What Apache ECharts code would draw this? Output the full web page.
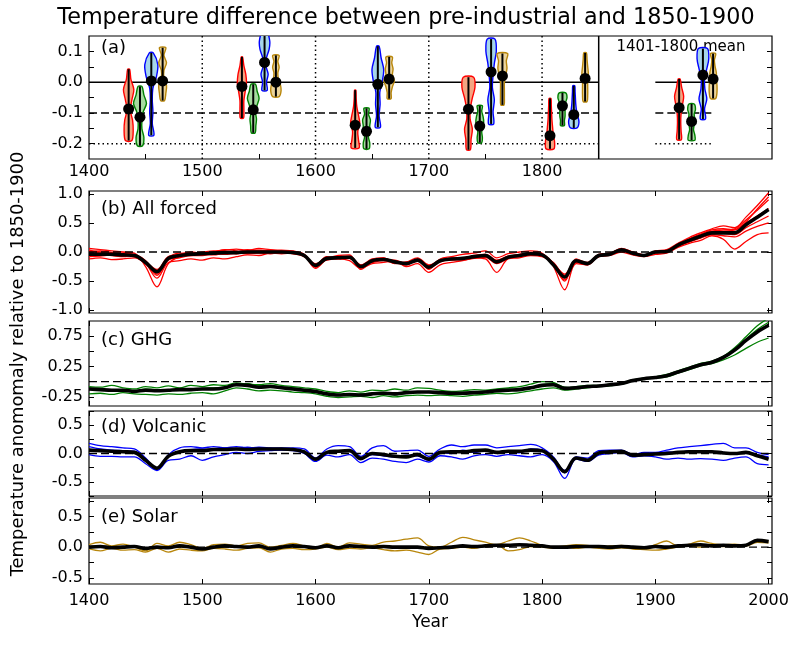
<!DOCTYPE html>
<html><head><meta charset="utf-8">
<script src="https://cdn.jsdelivr.net/npm/echarts@6/dist/echarts.min.js"></script>
<style>html,body{margin:0;padding:0;background:#fff}#c{width:800px;height:645px}</style>
</head><body><div id="c"></div>
<script>
// ---------------- DATA ----------------
const years = [1400,1410,1420,1430,1440,1450,1460,1470,1480,1490,1500,1510,1520,1530,1540,1550,1560,1570,1580,1590,1600,1610,1620,1630,1640,1650,1660,1670,1680,1690,1700,1710,1720,1730,1740,1750,1760,1770,1780,1790,1800,1810,1820,1830,1840,1850,1860,1870,1880,1890,1900,1910,1920,1930,1940,1950,1960,1970,1980,1990,2000];

// (b) All forced
const allMean = [-0.04,-0.04,-0.04,-0.05,-0.06,-0.18,-0.34,-0.11,-0.06,-0.04,-0.03,-0.02,-0.01,-0.01,0.0,0.0,0.0,0.0,-0.01,-0.06,-0.23,-0.11,-0.10,-0.09,-0.25,-0.15,-0.13,-0.17,-0.20,-0.14,-0.26,-0.15,-0.12,-0.11,-0.08,-0.06,-0.17,-0.09,-0.06,-0.03,-0.05,-0.22,-0.43,-0.15,-0.20,-0.06,-0.04,0.04,-0.02,-0.06,0.0,0.01,0.12,0.20,0.27,0.33,0.33,0.33,0.47,0.60,0.73];
const allR1 = [0.06,0.04,0.02,0.0,-0.02,-0.25,-0.6,-0.2,-0.08,-0.02,0.0,0.02,0.03,0.05,0.03,0.06,0.04,0.03,0.02,-0.05,-0.28,-0.12,-0.06,-0.05,-0.3,-0.15,-0.1,-0.18,-0.22,-0.12,-0.3,-0.12,-0.08,-0.04,-0.02,0.02,-0.1,-0.03,0.0,0.02,-0.02,-0.25,-0.65,-0.2,-0.22,-0.05,-0.02,0.05,0.0,-0.05,0.02,0.04,0.15,0.25,0.33,0.4,0.45,0.42,0.6,0.8,1.02];
const allR2 = [-0.12,-0.1,-0.13,-0.12,-0.1,-0.2,-0.45,-0.18,-0.15,-0.12,-0.14,-0.1,-0.12,-0.08,-0.05,-0.06,-0.02,-0.03,-0.02,-0.08,-0.2,-0.14,-0.12,-0.15,-0.28,-0.2,-0.18,-0.15,-0.25,-0.2,-0.35,-0.22,-0.18,-0.15,-0.1,-0.12,-0.35,-0.12,-0.1,-0.06,-0.08,-0.18,-0.4,-0.18,-0.22,-0.08,-0.06,0.0,-0.05,-0.08,-0.04,-0.02,0.08,0.15,0.2,0.28,0.22,0.05,0.18,0.3,0.33];
const allR3 = [0.02,-0.02,-0.06,-0.08,-0.05,-0.15,-0.38,-0.1,-0.04,0.0,-0.02,0.0,0.04,0.02,-0.02,0.0,0.02,-0.02,0.0,-0.04,-0.22,-0.08,-0.12,-0.08,-0.22,-0.12,-0.1,-0.2,-0.18,-0.1,-0.22,-0.16,-0.1,-0.12,-0.06,-0.04,-0.15,-0.08,-0.04,-0.02,-0.04,-0.22,-0.5,-0.12,-0.18,-0.04,-0.02,0.04,-0.04,-0.06,0.0,0.02,0.12,0.22,0.3,0.36,0.38,0.4,0.55,0.72,0.9];
const allR4 = [-0.06,-0.05,-0.02,-0.04,-0.08,-0.18,-0.3,-0.08,-0.05,-0.06,-0.04,-0.05,-0.02,-0.03,0.02,-0.01,0.01,0.02,-0.02,-0.06,-0.25,-0.1,-0.08,-0.1,-0.24,-0.16,-0.14,-0.14,-0.2,-0.16,-0.24,-0.14,-0.14,-0.12,-0.1,-0.08,-0.18,-0.1,-0.08,-0.04,-0.06,-0.2,-0.38,-0.14,-0.2,-0.07,-0.05,0.03,-0.02,-0.07,-0.01,0.0,0.1,0.18,0.25,0.3,0.32,0.3,0.42,0.52,0.62];
const allR5 = [0.0,0.02,-0.01,-0.02,-0.04,-0.16,-0.32,-0.12,-0.06,-0.05,-0.03,-0.04,0.0,0.01,0.02,0.03,0.0,0.01,0.01,-0.05,-0.24,-0.13,-0.1,-0.07,-0.26,-0.14,-0.12,-0.16,-0.19,-0.13,-0.27,-0.15,-0.12,-0.1,-0.08,-0.05,-0.16,-0.08,-0.05,-0.02,-0.04,-0.19,-0.45,-0.15,-0.19,-0.06,-0.04,0.05,-0.01,-0.06,0.01,0.02,0.14,0.2,0.28,0.35,0.36,0.38,0.5,0.62,0.75];
const allR6 = [-0.08,-0.07,-0.05,-0.06,-0.08,-0.2,-0.4,-0.14,-0.1,-0.06,-0.06,-0.03,-0.04,-0.02,-0.03,-0.02,-0.03,0.0,-0.03,-0.07,-0.21,-0.1,-0.09,-0.11,-0.23,-0.18,-0.15,-0.19,-0.17,-0.15,-0.28,-0.17,-0.13,-0.14,-0.11,-0.09,-0.2,-0.11,-0.07,-0.05,-0.07,-0.21,-0.42,-0.16,-0.21,-0.08,-0.05,0.02,-0.03,-0.07,-0.02,0.0,0.1,0.17,0.24,0.3,0.28,0.26,0.36,0.44,0.5];
const allR7 = [0.03,0.0,-0.03,-0.03,-0.06,-0.17,-0.36,-0.1,-0.02,-0.03,-0.01,-0.02,0.01,0.0,0.04,0.02,0.03,0.01,0.0,-0.05,-0.26,-0.09,-0.11,-0.08,-0.27,-0.13,-0.12,-0.15,-0.21,-0.12,-0.25,-0.13,-0.11,-0.1,-0.07,-0.04,-0.14,-0.07,-0.05,-0.01,-0.03,-0.2,-0.48,-0.14,-0.2,-0.05,-0.03,0.06,0.0,-0.05,0.01,0.03,0.13,0.23,0.31,0.38,0.4,0.38,0.52,0.74,0.95];

// (c) GHG
const ghgMean = [-0.12,-0.13,-0.14,-0.14,-0.16,-0.14,-0.15,-0.14,-0.13,-0.13,-0.12,-0.12,-0.1,-0.05,-0.06,-0.09,-0.08,-0.1,-0.12,-0.14,-0.16,-0.2,-0.22,-0.21,-0.22,-0.2,-0.19,-0.2,-0.18,-0.17,-0.17,-0.18,-0.19,-0.19,-0.18,-0.17,-0.15,-0.14,-0.13,-0.1,-0.06,-0.05,-0.11,-0.1,-0.08,-0.07,-0.05,-0.03,0.02,0.05,0.07,0.1,0.16,0.22,0.28,0.32,0.4,0.52,0.68,0.82,0.93];
const ghgG1 = [-0.08,-0.09,-0.06,-0.1,-0.12,-0.08,-0.1,-0.07,-0.1,-0.06,-0.08,-0.05,-0.06,-0.02,-0.04,-0.05,-0.03,-0.06,-0.08,-0.1,-0.12,-0.16,-0.18,-0.15,-0.17,-0.14,-0.15,-0.12,-0.14,-0.1,-0.11,-0.14,-0.16,-0.15,-0.13,-0.14,-0.12,-0.1,-0.08,-0.04,0.0,-0.01,-0.1,-0.08,-0.06,-0.06,-0.04,-0.02,0.03,0.06,0.08,0.12,0.18,0.24,0.3,0.34,0.42,0.56,0.74,0.92,1.05];
const ghgG2 = [-0.2,-0.19,-0.21,-0.18,-0.2,-0.21,-0.22,-0.2,-0.21,-0.19,-0.18,-0.2,-0.15,-0.1,-0.12,-0.15,-0.14,-0.15,-0.17,-0.18,-0.2,-0.24,-0.26,-0.25,-0.24,-0.26,-0.23,-0.25,-0.23,-0.22,-0.23,-0.22,-0.23,-0.24,-0.22,-0.21,-0.19,-0.2,-0.18,-0.15,-0.12,-0.1,-0.14,-0.12,-0.1,-0.08,-0.07,-0.04,0.01,0.04,0.06,0.08,0.14,0.2,0.26,0.3,0.36,0.44,0.55,0.65,0.72];
const ghgG3 = [-0.1,-0.12,-0.15,-0.13,-0.15,-0.12,-0.13,-0.15,-0.12,-0.14,-0.11,-0.1,-0.09,-0.04,-0.03,-0.07,-0.06,-0.09,-0.1,-0.13,-0.15,-0.19,-0.21,-0.22,-0.2,-0.19,-0.2,-0.22,-0.17,-0.18,-0.16,-0.17,-0.18,-0.17,-0.19,-0.16,-0.14,-0.12,-0.13,-0.11,-0.05,-0.03,-0.09,-0.1,-0.07,-0.07,-0.04,-0.03,0.02,0.05,0.07,0.1,0.16,0.22,0.28,0.33,0.41,0.54,0.7,0.86,0.98];

// (d) Volcanic
const volMean = [0.06,0.05,0.04,0.03,0.02,-0.12,-0.26,-0.05,0.03,0.05,0.05,0.07,0.07,0.08,0.07,0.08,0.08,0.08,0.07,0.03,-0.1,0.02,0.04,0.05,-0.09,0.0,-0.02,-0.05,-0.06,-0.02,-0.1,0.02,0.03,0.03,0.05,0.06,0.02,0.04,0.04,0.06,0.05,-0.1,-0.32,-0.08,-0.12,0.01,0.03,0.04,-0.03,-0.02,-0.01,0.0,0.02,0.03,0.03,0.03,0.01,0.0,0.02,-0.04,-0.1];
const volB1 = [0.18,0.14,0.12,0.1,0.08,-0.08,-0.28,-0.02,0.1,0.12,0.1,0.12,0.1,0.12,0.1,0.11,0.1,0.09,0.1,0.08,-0.08,0.08,0.14,0.12,-0.05,0.1,0.14,0.04,0.05,0.06,-0.05,0.08,0.15,0.12,0.15,0.15,0.1,0.12,0.14,0.16,0.1,-0.06,-0.3,-0.06,-0.08,0.05,0.06,0.06,-0.02,0.02,0.02,0.06,0.1,0.12,0.14,0.16,0.18,0.1,0.1,0.02,-0.02];
const volB2 = [-0.02,-0.05,-0.05,-0.06,-0.06,-0.18,-0.3,-0.12,-0.1,-0.04,-0.12,-0.06,-0.02,0.02,0.0,0.04,0.05,0.06,0.05,0.0,-0.14,-0.03,-0.06,-0.02,-0.16,-0.08,-0.1,-0.14,-0.16,-0.1,-0.15,-0.04,-0.06,-0.1,-0.04,-0.02,-0.05,-0.02,-0.04,-0.06,-0.02,-0.14,-0.44,-0.1,-0.14,-0.03,0.0,0.02,-0.06,-0.04,-0.06,-0.1,-0.08,-0.1,-0.09,-0.1,-0.12,-0.08,-0.06,-0.18,-0.2];
const volB3 = [0.12,0.08,0.06,0.05,0.04,-0.1,-0.25,-0.04,0.02,0.07,0.08,0.06,0.1,0.09,0.11,0.09,0.09,0.1,0.08,0.04,-0.1,0.0,0.02,0.06,-0.08,-0.02,-0.04,-0.06,-0.03,-0.04,-0.12,0.02,0.0,0.06,0.02,0.05,0.01,0.03,0.01,0.08,0.06,-0.1,-0.34,-0.07,-0.13,0.0,0.04,0.05,-0.02,-0.03,0.0,0.03,0.02,0.05,0.04,0.03,0.02,0.0,0.03,-0.02,-0.06];

// (e) Solar
const solMean = [0.0,0.01,-0.01,0.0,0.01,-0.02,0.0,-0.01,0.02,0.0,-0.03,0.0,0.02,0.01,0.0,0.02,-0.03,0.0,0.02,0.01,-0.01,0.02,-0.01,0.02,0.01,0.0,0.01,0.0,0.0,0.0,-0.02,-0.01,0.0,0.02,0.01,0.02,0.03,0.03,0.04,0.03,0.02,0.0,0.0,0.01,0.01,0.01,0.0,0.01,0.0,-0.01,0.01,0.0,0.02,0.03,0.04,0.02,0.03,0.02,0.03,0.11,0.09];
const solS1 = [0.04,0.08,0.02,0.05,0.0,-0.06,0.06,0.02,0.08,0.04,-0.02,0.04,0.05,0.02,0.06,0.07,0.0,0.03,0.06,0.02,-0.02,0.06,0.0,0.07,0.05,0.03,0.08,0.1,0.13,0.15,0.02,0.0,0.08,0.16,0.12,0.08,0.04,0.1,0.15,0.1,0.03,0.0,0.02,0.04,0.03,0.0,0.02,0.03,0.0,-0.02,0.04,0.1,0.02,0.05,0.1,0.06,0.04,0.05,0.03,0.12,0.1];
const solS2 = [-0.03,-0.06,-0.02,-0.05,-0.04,-0.08,-0.02,-0.08,-0.03,-0.05,-0.06,-0.02,-0.03,-0.05,-0.02,-0.01,-0.08,-0.03,-0.02,-0.04,-0.03,0.0,-0.04,-0.02,-0.03,-0.01,-0.04,-0.06,-0.05,-0.08,-0.12,-0.03,-0.02,0.0,-0.02,0.02,0.04,-0.06,-0.04,0.01,0.0,-0.02,0.0,-0.02,0.0,-0.02,-0.03,-0.01,-0.03,-0.04,-0.05,-0.03,0.0,0.02,0.0,0.02,0.01,0.02,0.02,0.08,0.07];

// (a) violins: positions (year), mean, min, max, relative density (top -> bottom)
const redPos = [1435,1535,1635,1735,1807,1921];
const redMean = [-0.087,-0.014,-0.14,-0.088,-0.174,-0.083];
const redLo = [-0.19,-0.117,-0.214,-0.22,-0.217,-0.187];
const redHi = [0.042,0.082,-0.026,0.016,-0.053,0.01];
const redShape = [[0.15,0.35,0.8,0.5,0.25,0.6,0.7,0.5],[0.1,0.3,0.6,0.7,0.5,0.3,0.3,0.25],[0.1,0.15,0.25,0.5,0.7,0.4,0.5,0.6],[0.8,1.0,0.6,0.3,0.25,0.6,0.4,0.3],[0.15,0.2,0.25,0.3,0.4,0.5,0.7,0.6],[0.15,0.4,0.7,0.5,0.3,0.25,0.3,0.35]];

const greenPos = [1445,1545,1645,1745,1818,1932];
const greenMean = [-0.114,-0.09,-0.16,-0.143,-0.077,-0.128];
const greenLo = [-0.207,-0.165,-0.217,-0.197,-0.141,-0.189];
const greenHi = [-0.014,-0.007,-0.085,-0.077,-0.035,-0.071];
const greenShape = [[0.3,0.6,1.0,0.5,0.3,0.3,0.6,0.4],[0.35,0.6,0.9,0.6,0.35,0.5,0.4,0.3],[0.4,0.3,0.6,0.5,0.5,0.3,0.5,0.4],[0.4,0.3,0.5,0.6,0.4,0.3,0.4,0.3],[0.5,0.7,0.5,0.4,0.4,0.4,0.3,0.3],[0.4,0.6,0.4,0.5,0.4,0.3,0.5,0.5]];

const bluePos = [1455,1555,1655,1755,1828,1942];
const blueMean = [0.004,0.064,-0.007,0.033,-0.106,0.023];
const blueLo = [-0.173,-0.027,-0.147,-0.136,-0.149,-0.12];
const blueHi = [0.095,0.16,0.117,0.14,-0.012,0.109];
const blueShape = [[0.3,1.0,0.8,0.25,0.15,0.25,0.15,0.4],[0.4,0.8,0.7,0.3,0.2,0.55,0.3,0.4],[0.2,0.5,0.9,0.7,0.3,0.35,0.2,0.4],[0.6,0.8,0.5,0.3,0.2,0.5,0.3,0.4],[0.15,0.2,0.25,0.3,0.4,0.6,0.8,0.5],[0.7,0.9,0.6,0.25,0.3,0.6,0.25,0.4]];

const goldPos = [1465,1565,1665,1765,1838,1951];
const goldMean = [0.004,0.0,0.01,0.02,0.012,0.01];
const goldLo = [-0.06,-0.047,-0.054,-0.074,-0.063,-0.053];
const goldHi = [0.112,0.087,0.082,0.093,0.095,0.093];
const goldShape = [[0.5,0.2,0.6,0.2,0.2,0.6,0.5,0.3],[0.5,0.3,0.5,0.3,0.4,0.7,0.8,0.5],[0.5,0.4,0.6,0.5,0.8,0.5,0.3,0.3],[0.8,0.6,0.7,0.5,0.3,0.3,0.3,0.25],[0.2,0.3,0.4,0.5,0.4,0.4,0.4,0.3],[0.4,0.2,0.3,0.5,0.5,0.6,0.6,0.4]];

// (a) reference lines
const refLevels = [0, -0.1, -0.2];
const periodSpan = [1400, 1850];
const meanSpan = [1900, 1950];
const centuryLines = [1500, 1600, 1700, 1800];
const splitYear = 1850;

// tick values / labels
const xTicksTop = [1400,1500,1600,1700,1800];
const xMinorA = [1450,1550,1650,1750];
const xTicks = [1400,1500,1600,1700,1800,1900,2000];
const yTicksA = [-0.2,-0.15,-0.1,-0.05,0,0.05,0.1];
const yLabelsA = [-0.2,-0.1,0,0.1];
const yTicksB = [-1,-0.5,0,0.5,1];
const yTicksC = [-0.25,0,0.25,0.5,0.75];
const yLabelsC = [-0.25,0.25,0.75];
const yTicksD = [-0.75,-0.5,-0.25,0,0.25,0.5,0.75];
const yLabelsD = [-0.5,0,0.5];
const yTicksE = [-0.5,-0.25,0,0.25,0.5,0.75];
const yLabelsE = [-0.5,0,0.5];

// ---------------- CHART ----------------
const FONT = 'DejaVu Sans';
const X_MIN = 1400, X_MAX = 2003;
const grids = [
  {top:36, height:123, ymin:-0.25, ymax:0.15},
  {top:191, height:122, ymin:-1.05, ymax:1.05},
  {top:321, height:85, ymin:-0.4, ymax:1.0},
  {top:411, height:85, ymin:-0.75, ymax:0.75},
  {top:498, height:86, ymin:-0.6, ymax:0.8}
];
const gridOpts = grids.map(g => ({left:89, width:683, top:g.top, height:g.height, show:true, borderColor:'#000', borderWidth:1.2, backgroundColor:'transparent', containLabel:false}));

function xAx(gi, pos, ticks, labels, margin) {
  return {type:'value', gridIndex:gi, position:pos, min:X_MIN, max:X_MAX,
    axisLine:{show:false, onZero:false}, splitLine:{show:false},
    axisTick:{show:true, inside:true, length:5, customValues:ticks, lineStyle:{color:'#000', width:1}},
    axisLabel: labels ? {show:true, customValues:labels, margin:margin, color:'#000', fontSize:16, fontFamily:FONT, formatter:v=>String(Math.round(v))} : {show:false}};
}
function yAx(gi, pos, ticks, labels, digits) {
  const g = grids[gi];
  return {type:'value', gridIndex:gi, position:pos, min:g.ymin, max:g.ymax,
    axisLine:{show:false, onZero:false}, splitLine:{show:false},
    axisTick:{show:true, inside:true, length:5, customValues:ticks, lineStyle:{color:'#000', width:1}},
    axisLabel: labels ? {show:true, customValues:labels, margin:6, color:'#000', fontSize:16, fontFamily:FONT, formatter:v=>v.toFixed(digits)} : {show:false}};
}

const xAxes = [
  xAx(0,'bottom',xMinorA,xTicksTop,5), xAx(0,'top',[],null),
  xAx(1,'bottom',xTicks,null), xAx(1,'top',xTicks,null),
  xAx(2,'bottom',xTicks,null), xAx(2,'top',xTicks,null),
  xAx(3,'bottom',xTicks,null), xAx(3,'top',xTicks,null),
  xAx(4,'bottom',xTicks,xTicks,9), xAx(4,'top',xTicks,null)
];
const yAxes = [
  yAx(0,'left',yTicksA,yLabelsA,1), yAx(0,'right',yTicksA,null),
  yAx(1,'left',yTicksB,yTicksB,1), yAx(1,'right',yTicksB,null),
  yAx(2,'left',yTicksC,yLabelsC,2), yAx(2,'right',yTicksC,null),
  yAx(3,'left',yTicksD,yLabelsD,1), yAx(3,'right',yTicksD,null),
  yAx(4,'left',yTicksE,yLabelsE,1), yAx(4,'right',yTicksE,null)
];

const series = [];
const pairs = vals => years.map((y,i)=>[y, vals[i]]);
function memberLine(ai, vals, color) {
  series.push({type:'line', xAxisIndex:ai, yAxisIndex:ai, data:pairs(vals), showSymbol:false, symbol:'none',
    smooth:0.35, lineStyle:{color:color, width:1.3}, silent:true, animation:false, z:2});
}
function meanLine(ai, vals) {
  series.push({type:'line', xAxisIndex:ai, yAxisIndex:ai, data:pairs(vals), showSymbol:false, symbol:'none',
    smooth:0.35, lineStyle:{color:'#000', width:3.6}, silent:true, animation:false, z:4});
}
function zeroLine(ai) {
  series.push({type:'line', xAxisIndex:ai, yAxisIndex:ai, data:[[X_MIN,0],[2000,0]], showSymbol:false, symbol:'none',
    lineStyle:{color:'#000', width:1.3, type:[8,4]}, silent:true, animation:false, z:3});
}
function segLine(ai, pts, type, width) {
  series.push({type:'line', xAxisIndex:ai, yAxisIndex:ai, data:pts, showSymbol:false, symbol:'none',
    lineStyle:{color:'#000', width:width, type:type}, silent:true, animation:false, z:1});
}

// ---- panel (a)
const refTypes = ['solid', [8,4], [1.5,3]];
refLevels.forEach((lv,k) => {
  segLine(0, [[periodSpan[0],lv],[periodSpan[1],lv]], refTypes[k], 1.5);
  segLine(0, [[meanSpan[0],lv],[meanSpan[1],lv]], refTypes[k], 1.5);
});
centuryLines.forEach(yr => segLine(0, [[yr,grids[0].ymin],[yr,grids[0].ymax]], [1.5,3], 1.5));
segLine(0, [[splitYear,grids[0].ymin],[splitYear,grids[0].ymax]], 'solid', 1.5);

const HALF = 6.5;
function violin(pos, lo, hi, shape, fill, stroke) {
  series.push({type:'custom', xAxisIndex:0, yAxisIndex:0, clip:true, silent:true, animation:false, z:5,
    data: pos.map((p,i)=>[p, lo[i], hi[i]]),
    renderItem: function(params, api) {
      const x = api.value(0), l = api.value(1), h = api.value(2);
      const d = shape[params.dataIndex];
      const n = d.length;
      const right = [], left = [];
      for (let i=0;i<n;i++) {
        const v = h - (h-l)*i/(n-1);
        const c = api.coord([x, v]);
        const w = d[i]*HALF;
        right.push([c[0]+w, c[1]]);
        left.unshift([c[0]-w, c[1]]);
      }
      return {type:'polygon', shape:{points:right.concat(left), smooth:0.3},
        style:{fill:fill, stroke:stroke, lineWidth:1.4}};
    }});
  series.push({type:'custom', xAxisIndex:0, yAxisIndex:0, clip:true, silent:true, animation:false, z:6,
    data: pos.map((p,i)=>[p, lo[i], hi[i]]),
    renderItem: function(params, api) {
      const a = api.coord([api.value(0), api.value(1)]);
      const b = api.coord([api.value(0), api.value(2)]);
      return {type:'line', shape:{x1:a[0], y1:a[1], x2:b[0], y2:b[1]}, style:{stroke:'#000', lineWidth:2}};
    }});
}
function dots(pos, mean) {
  series.push({type:'custom', xAxisIndex:0, yAxisIndex:0, clip:true, silent:true, animation:false, z:7,
    data: pos.map((p,i)=>[p, mean[i]]),
    renderItem: function(params, api) {
      const c = api.coord([api.value(0), api.value(1)]);
      return {type:'circle', shape:{cx:c[0], cy:c[1], r:5.5}, style:{fill:'#000'}};
    }});
}
violin(redPos, redLo, redHi, redShape, '#f4a582', '#ff0000');
violin(greenPos, greenLo, greenHi, greenShape, '#a6dba0', '#008000');
violin(bluePos, blueLo, blueHi, blueShape, '#a6d5ea', '#0000ff');
violin(goldPos, goldLo, goldHi, goldShape, '#ebd49c', '#b8860b');
dots(redPos, redMean); dots(greenPos, greenMean); dots(bluePos, blueMean); dots(goldPos, goldMean);

// ---- panel (b)
[allR1,allR2,allR3,allR4,allR5,allR6,allR7].forEach(v => memberLine(2, v, '#ff0000'));
zeroLine(2); meanLine(2, allMean);
// ---- panel (c)
[ghgG1,ghgG2,ghgG3].forEach(v => memberLine(4, v, '#008000'));
zeroLine(4); meanLine(4, ghgMean);
// ---- panel (d)
[volB1,volB2,volB3].forEach(v => memberLine(6, v, '#0000ff'));
zeroLine(6); meanLine(6, volMean);
// ---- panel (e)
[solS1,solS2].forEach(v => memberLine(8, v, '#b8860b'));
zeroLine(8); meanLine(8, solMean);

function txt(x, y, t, size, align, rot) {
  return {type:'text', x:x, y:y, rotation:rot||0, silent:true,
    style:{text:t, fill:'#000', fontSize:size, fontFamily:FONT, align:align||'left', verticalAlign:'middle'}};
}
const graphics = [
  txt(406, 18, 'Temperature difference between pre-industrial and 1850-1900', 22.3, 'center'),
  txt(101, 48, '(a)', 18),
  txt(681, 47, '1401-1800 mean', 15, 'center'),
  txt(101, 209, '(b) All forced', 18),
  txt(101, 340, '(c) GHG', 18),
  txt(101, 427, '(d) Volcanic', 18),
  txt(101, 517, '(e) Solar', 18),
  txt(430, 623, 'Year', 17, 'center'),
  txt(18, 364, 'Temperature anomomaly relative to 1850-1900', 17.9, 'center', Math.PI/2)
];

const chart = echarts.init(document.getElementById('c'), null, {renderer:'canvas'});
chart.setOption({
  animation:false,
  backgroundColor:'#fff',
  grid: gridOpts,
  xAxis: xAxes,
  yAxis: yAxes,
  series: series,
  graphic: graphics
});
</script></body></html>
